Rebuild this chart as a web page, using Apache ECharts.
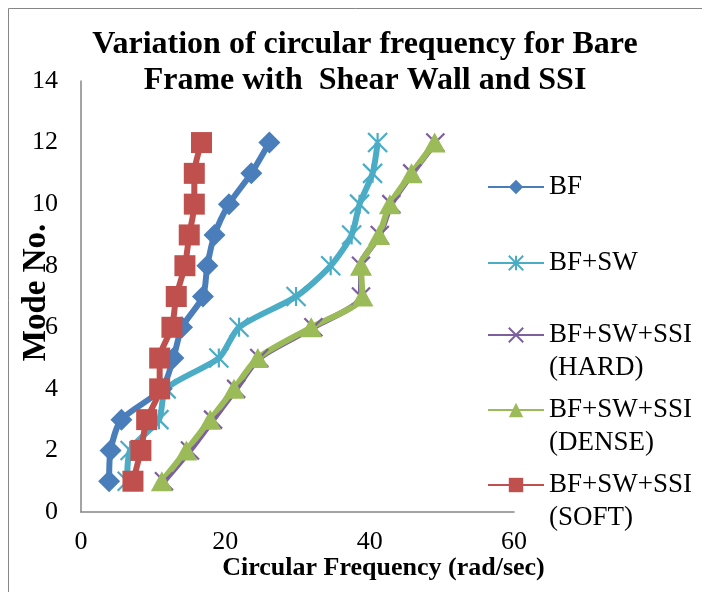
<!DOCTYPE html>
<html>
<head>
<meta charset="utf-8">
<script src="https://cdn.jsdelivr.net/npm/echarts@6/dist/echarts.min.js"></script>
<style>
  html, body { margin: 0; padding: 0; background: #fff; }
  #chart { width: 702px; height: 592px; }
</style>
</head>
<body>
<div id="chart"></div>
<script>
// Mode numbers (y) and circular frequency in rad/sec (x) for each model
const modes = [1, 2, 3, 4, 5, 6, 7, 8, 9, 10, 11, 12];
const bf      = [3.9, 4.1, 5.6, 11.2, 12.8, 14.0, 16.9, 17.5, 18.5, 20.5, 23.6, 26.1];
const bfSw    = [6.4, 6.8, 10.8, 11.8, 19.1, 21.9, 29.8, 34.6, 37.5, 38.6, 40.4, 41.1];
const ssiHard = [11.5, 15.1, 18.3, 21.5, 24.7, 32.2, 38.8, 38.8, 41.4, 43.0, 45.9, 49.1];
const ssiDense= [11.2, 14.6, 17.9, 21.2, 24.5, 31.9, 39.0, 38.8, 41.3, 42.8, 45.8, 49.0];
const ssiSoft = [7.2, 8.3, 9.1, 10.9, 10.9, 12.6, 13.2, 14.4, 15.0, 15.7, 15.7, 16.7];

const xTicks = [0, 20, 40, 60];
const yTicks = [0, 2, 4, 6, 8, 10, 12, 14];

const seriesNames = ['BF', 'BF+SW', 'BF+SW+SSI\n(HARD)', 'BF+SW+SSI\n(DENSE)', 'BF+SW+SSI\n(SOFT)'];
const seriesValues = [bf, bfSw, ssiHard, ssiDense, ssiSoft];
const seriesColors = ['#4A7EBB', '#4BACC6', '#7D5FA0', '#9BBB59', '#C0504D'];

const FONT = '"Liberation Serif", "Times New Roman", serif';

const markers = [
  { symbol: 'diamond', size: 22, border: 0 },
  { symbol: 'path://M5 0L5 10M0 0L10 10M10 0L0 10', size: 19, border: 2.2 },
  { symbol: 'path://M0 0L10 10M10 0L0 10', size: 18, border: 2.2 },
  { symbol: 'triangle', size: [22, 20], border: 0 },
  { symbol: 'rect', size: 21, border: 0 }
];

const pairs = vals => vals.map((v, i) => [v, modes[i]]);

const series = seriesNames.map((name, i) => ({
  name: name,
  type: 'line',
  data: pairs(seriesValues[i]),
  smooth: 0.25,
  symbol: markers[i].symbol,
  symbolSize: markers[i].size,
  showAllSymbol: true,
  lineStyle: { color: seriesColors[i], width: 6 },
  itemStyle: {
    color: seriesColors[i],
    borderColor: seriesColors[i],
    borderWidth: markers[i].border
  },
  emphasis: { disabled: true },
  animation: false
}));

// One legend block per series; a leading blank line keeps the key
// level with the first line of two-line names
const LEGEND_LH = 33;
const legendCentres = [187, 263, 335, 410, 485];
const legends = seriesNames.map((name, i) => {
  const multi = name.indexOf('\n') >= 0;
  return {
    data: [name],
    left: 487,
    top: legendCentres[i] - (multi ? 1.5 : 0.5) * LEGEND_LH,
    orient: 'vertical',
    itemWidth: 56,
    itemHeight: 18,
    itemGap: 0,
    padding: 0,
    selectedMode: false,
    formatter: n => (n.indexOf('\n') >= 0 ? '\n' + n : n),
    textStyle: {
      fontFamily: FONT,
      fontSize: 27,
      color: '#000',
      lineHeight: LEGEND_LH
    }
  };
});

const chart = echarts.init(document.getElementById('chart'), null, { renderer: 'canvas' });
chart.setOption({
  backgroundColor: '#fff',
  animation: false,
  title: {
    text: 'Variation of circular frequency for Bare\nFrame with  Shear Wall and SSI',
    left: 365,
    top: 27,
    textAlign: 'center',
    padding: 0,
    textStyle: {
      fontFamily: FONT,
      fontSize: 32,
      fontWeight: 'bold',
      color: '#000',
      lineHeight: 36
    }
  },
  legend: legends,
  grid: { left: 81, right: 188, top: 81, bottom: 80, containLabel: false, outerBoundsMode: 'none' },
  xAxis: {
    type: 'value',
    min: xTicks[0],
    max: xTicks[xTicks.length - 1],
    interval: 20,
    name: 'Circular Frequency (rad/sec)',
    nameLocation: 'middle',
    nameGap: 43,
    nameMoveOverlap: false,
    nameTextStyle: {
      fontFamily: FONT, fontSize: 26, fontWeight: 'bold', color: '#000',
      padding: [0, 0, 0, 172]
    },
    axisLine: { show: true, lineStyle: { color: '#868686', width: 1.5 } },
    axisTick: { show: false },
    splitLine: { show: false },
    axisLabel: { fontFamily: FONT, fontSize: 26, color: '#000', margin: 17 }
  },
  yAxis: {
    type: 'value',
    min: yTicks[0],
    max: yTicks[yTicks.length - 1],
    interval: 2,
    name: 'Mode No.',
    nameLocation: 'middle',
    nameGap: 28,
    nameMoveOverlap: false,
    nameTextStyle: {
      fontFamily: FONT, fontSize: 33, fontWeight: 'bold', color: '#000',
      padding: [0, 0, 0, 8]
    },
    axisLine: { show: true, lineStyle: { color: '#868686', width: 1.5 } },
    axisTick: { show: false },
    splitLine: { show: false },
    axisLabel: { fontFamily: FONT, fontSize: 26, color: '#000', margin: 23 }
  },
  graphic: [{
    type: 'rect',
    shape: { x: 8.5, y: 8.5, width: 720, height: 620 },
    style: { fill: 'none', stroke: '#868686', lineWidth: 1 },
    silent: true,
    z: -1
  }],
  series: series
});
</script>
</body>
</html>
